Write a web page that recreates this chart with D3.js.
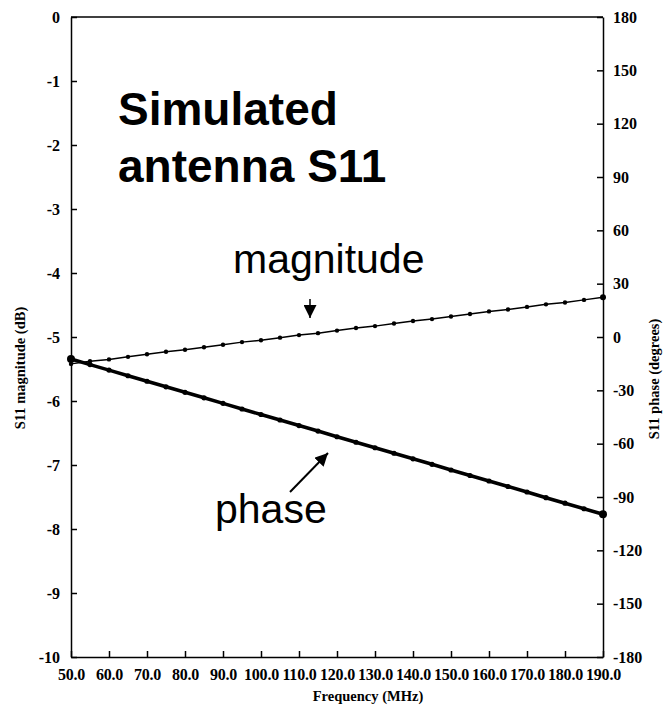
<!DOCTYPE html>
<html>
<head>
<meta charset="utf-8">
<script src="https://cdn.jsdelivr.net/npm/d3@7"></script>
<style>
  html, body { margin: 0; padding: 0; background: #fff; }
  svg { display: block; }
  .tick text { font-family: 'Liberation Serif', 'Times New Roman', serif; font-weight: bold; font-size: 16px; fill: #000; }
  .axis-title { font-family: 'Liberation Serif', 'Times New Roman', serif; font-weight: bold; font-size: 14.5px; }
  .note { font-family: 'Liberation Sans', Arial, sans-serif; }
</style>
</head>
<body>
<svg id="chart"></svg>
<script>
// frequency points (MHz), one every 5 MHz
const frequency = [
  50, 55, 60, 65, 70, 75, 80, 85, 90, 95, 100, 105, 110, 115, 120,
  125, 130, 135, 140, 145, 150, 155, 160, 165, 170, 175, 180, 185, 190,
];
// S11 magnitude (dB)
const magnitude = [
  -5.42, -5.38, -5.35, -5.31, -5.27, -5.23, -5.20, -5.16, -5.12, -5.08,
  -5.05, -5.01, -4.97, -4.94, -4.90, -4.86, -4.83, -4.79, -4.75, -4.72,
  -4.68, -4.64, -4.60, -4.57, -4.53, -4.49, -4.46, -4.42, -4.38,
];
// S11 phase (degrees)
const phase = [
  -12.4, -15.5, -18.6, -21.8, -24.9, -28.0, -31.1, -34.2, -37.3, -40.5,
  -43.6, -46.7, -49.8, -52.9, -56.1, -59.2, -62.3, -65.4, -68.5, -71.6,
  -74.8, -77.9, -81.0, -84.1, -87.2, -90.4, -93.5, -96.6, -99.7,
];

const xTicks = d3.range(50, 191, 10);
const magTicks = d3.range(-10, 1, 1);
const phaseTicks = d3.range(-180, 181, 30);

const width = 663;
const height = 711;
const margin = { top: 17, right: 60, bottom: 54, left: 71 };

// plain hyphen for negatives, like the original
const intFormat = d => String(d);

const sel = d3.select('#chart').attr('width', width).attr('height', height);

const xScale = d3
  .scaleLinear()
  .domain([50, 190])
  .range([margin.left, width - margin.right]);
const yMag = d3
  .scaleLinear()
  .domain([-10, 0])
  .range([height - margin.bottom, margin.top]);
const yPhase = d3
  .scaleLinear()
  .domain([-180, 180])
  .range([height - margin.bottom, margin.top]);

const x0 = xScale.range()[0];
const x1 = xScale.range()[1];
const yTop = yMag.range()[1];
const yBottom = yMag.range()[0];

// top border
sel.append('line')
  .attr('x1', x0).attr('x2', x1)
  .attr('y1', yTop).attr('y2', yTop)
  .attr('stroke', '#000').attr('stroke-width', 1.5);

// axes, ticks point inwards
const styleAxis = g => {
  g.select('.domain').attr('stroke', '#000').attr('stroke-width', 1.5);
  g.selectAll('.tick line').attr('stroke', '#000').attr('stroke-width', 1.5);
};

sel.append('g')
  .attr('transform', `translate(0,${yBottom})`)
  .call(d3.axisBottom(xScale).tickValues(xTicks).tickFormat(d => d.toFixed(1))
    .tickSize(-6).tickSizeOuter(0).tickPadding(12))
  .call(styleAxis)
  .call(g => g.selectAll('.tick text').attr('letter-spacing', '-0.2px'));

sel.append('g')
  .attr('transform', `translate(${x0},0)`)
  .call(d3.axisLeft(yMag).tickValues(magTicks).tickFormat(intFormat)
    .tickSize(-6).tickSizeOuter(0).tickPadding(11))
  .call(styleAxis);

sel.append('g')
  .attr('transform', `translate(${x1},0)`)
  .call(d3.axisRight(yPhase).tickValues(phaseTicks).tickFormat(intFormat)
    .tickSize(-6).tickSizeOuter(0).tickPadding(10))
  .call(styleAxis);

// axis titles
sel.append('text')
  .attr('class', 'axis-title')
  .attr('x', 368).attr('y', 701)
  .attr('text-anchor', 'middle')
  .text('Frequency (MHz)');
sel.append('text')
  .attr('class', 'axis-title')
  .attr('transform', 'translate(25,368) rotate(-90)')
  .attr('text-anchor', 'middle')
  .text('S11 magnitude (dB)');
sel.append('text')
  .attr('class', 'axis-title')
  .attr('transform', 'translate(659,379) rotate(-90)')
  .attr('text-anchor', 'middle')
  .text('S11 phase (degrees)');

// series
const magData = frequency.map((f, i) => ({ f, v: magnitude[i] }));
const phaseData = frequency.map((f, i) => ({ f, v: phase[i] }));

sel.append('path')
  .datum(phaseData)
  .attr('fill', 'none')
  .attr('stroke', '#000')
  .attr('stroke-width', 3.5)
  .attr('d', d3.line().x(d => xScale(d.f)).y(d => yPhase(d.v)));
sel.append('g')
  .selectAll('circle')
  .data(phaseData)
  .join('circle')
  .attr('cx', d => xScale(d.f))
  .attr('cy', d => yPhase(d.v))
  .attr('r', (d, i) => (i === 0 || i === phaseData.length - 1 ? 4 : 2.6))
  .attr('fill', '#000');

sel.append('path')
  .datum(magData)
  .attr('fill', 'none')
  .attr('stroke', '#000')
  .attr('stroke-width', 1.5)
  .attr('d', d3.line().x(d => xScale(d.f)).y(d => yMag(d.v)));
sel.append('g')
  .selectAll('circle')
  .data(magData)
  .join('circle')
  .attr('cx', d => xScale(d.f))
  .attr('cy', d => yMag(d.v))
  .attr('r', (d, i) => (i === magData.length - 1 ? 3 : 2.2))
  .attr('fill', '#000');

// title
const title = sel.append('text')
  .attr('class', 'note')
  .attr('x', 118)
  .attr('font-size', 46)
  .attr('font-weight', 'bold');
title.append('tspan').attr('x', 118).attr('y', 125).text('Simulated');
title.append('tspan').attr('x', 118).attr('y', 182).text('antenna S11');

// annotations
sel.append('text')
  .attr('class', 'note')
  .attr('x', 233).attr('y', 273)
  .attr('font-size', 41)
  .text('magnitude');
sel.append('text')
  .attr('class', 'note')
  .attr('x', 215).attr('y', 523)
  .attr('font-size', 41)
  .text('phase');

const defs = sel.append('defs');
defs.append('marker')
  .attr('id', 'headBig')
  .attr('viewBox', '0 0 10 10')
  .attr('refX', 10).attr('refY', 5)
  .attr('markerWidth', 13).attr('markerHeight', 13)
  .attr('markerUnits', 'userSpaceOnUse')
  .attr('orient', 'auto')
  .append('path')
  .attr('d', 'M0,0 L10,5 L0,10 Z')
  .attr('fill', '#000');

sel.append('line')
  .attr('x1', 310).attr('y1', 299)
  .attr('x2', 310).attr('y2', 318)
  .attr('stroke', '#000').attr('stroke-width', 1.5)
  .attr('marker-end', 'url(#headBig)');
sel.append('line')
  .attr('x1', 290).attr('y1', 492)
  .attr('x2', 328).attr('y2', 453)
  .attr('stroke', '#000').attr('stroke-width', 2)
  .attr('marker-end', 'url(#headBig)');
</script>
</body>
</html>
